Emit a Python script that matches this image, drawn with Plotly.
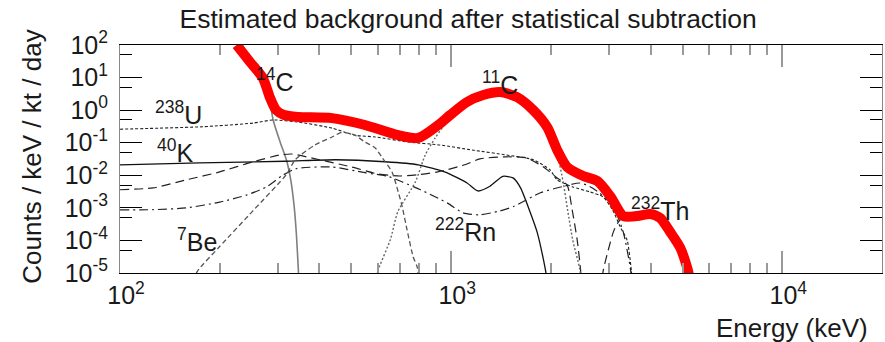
import math
import plotly.graph_objects as go

# ---------------- data (energy in keV, rate in counts/keV/kt/day) ----------------
e_total = [225, 247, 270, 284, 296, 313, 345, 437, 549, 692, 795, 914, 993, 1117, 1250, 1407,
           1582, 1770, 1950, 2090, 2240, 2505, 2762, 3021, 3310, 3648, 3990, 4277, 4589, 4920, 5166, 5350]
y_total = [100, 30, 9.7, 2.36, 1.01, 0.71, 0.62, 0.57, 0.35, 0.17, 0.14, 0.35, 0.71, 1.78, 2.9, 3.6,
           2.5, 1.0, 0.30, 0.060, 0.018, 0.0095, 0.0067, 0.0023, 5.6e-4, 5.6e-4, 6.5e-4, 4.9e-4, 1.8e-4,
           5.9e-5, 1.4e-5, 3e-6]

e_c14 = [215, 234, 250, 270, 282, 290, 305, 318, 328, 336, 341, 346, 350]
y_c14 = [400, 100, 30, 9.5, 2.5, 0.5, 0.1, 0.03, 0.007, 1e-3, 1.5e-4, 1e-5, 1e-6]

e_u238 = [100, 178, 252, 290, 345, 437, 512, 590, 742, 925, 1166, 1470, 1770, 1990, 2090, 2330,
          2620, 2870, 3070, 3240, 3400, 3500, 3560]
y_u238 = [0.26, 0.31, 0.40, 0.5, 0.43, 0.28, 0.17, 0.15, 0.105, 0.085, 0.059, 0.042, 0.030, 0.0146,
          0.0072, 0.0044, 0.0031, 0.0022, 8.8e-4, 2.6e-4, 1.0e-4, 1.2e-5, 1e-6]

e_k40 = [100, 174, 315, 447, 632, 795, 960, 1117, 1205, 1310, 1432, 1538, 1620, 1730, 1818, 1895, 1940, 1980]
y_k40 = [0.021, 0.024, 0.027, 0.030, 0.026, 0.021, 0.0125, 0.0058, 0.0033, 0.0046, 0.0093, 0.0083,
         0.0041, 7.6e-4, 1.8e-4, 2.9e-5, 8e-6, 1e-6]

e_th232 = [100, 126, 159, 200, 252, 304, 330, 400, 500, 600, 700, 800, 912, 1100, 1222, 1470, 1690,
           1900, 2090, 2240, 2320, 2400, 2460, 2500, None, 2840, 2870, 2980, 3100, 3240, 3500, 3990,
           4277, 4589, 4920, 5166, 5300]
y_th232 = [0.0036, 0.0041, 0.0073, 0.0127, 0.026, 0.042, 0.045, 0.030, 0.018, 0.011, 0.0095, 0.0105,
           0.0127, 0.021, 0.032, 0.037, 0.034, 0.018, 0.0083, 0.005, 8.6e-4, 1.1e-4, 1.2e-5, 1e-6, None,
           1e-6, 1e-5, 5e-5, 2e-4, 4.3e-4, 5e-4, 5.8e-4, 4.4e-4, 1.6e-4, 5.3e-5, 1.3e-5, 1e-6]

e_rn222 = [100, 126, 159, 200, 242, 278, 310, 340, 437, 549, 640, 710, 808, 975, 1087, 1222, 1400,
           1543, 1860, 2170, 2450, 2620, 2800, 3070, 3300, 3480, 3550]
y_rn222 = [8.7e-4, 8.8e-4, 1.0e-3, 1.5e-3, 2.5e-3, 4.5e-3, 0.010, 0.016, 0.018, 0.012, 0.0095, 0.0063,
           0.0036, 0.0014, 7e-4, 6.1e-4, 8e-4, 1.1e-3, 2.9e-3, 4.5e-3, 5.8e-3, 4.5e-3, 2.9e-3, 1.2e-3,
           2e-4, 1.3e-5, 1e-6]

e_be7 = [160, 171, 200, 252, 319, 338, 388, 437, 469, 512, 549, 590, 620, 663, 692, 710, 736, 768, 790, 810]
y_be7 = [2e-6, 1.1e-5, 6.5e-5, 8.1e-4, 0.011, 0.03, 0.085, 0.15, 0.21, 0.17, 0.105, 0.069, 0.034,
         0.0126, 0.0031, 0.0012, 2.1e-4, 3.1e-5, 1.5e-5, 1e-6]

e_c11 = [560, 597, 656, 690, 780, 835, 895, 993, 1117, 1250, 1407, 1582, 1770, 1950, 2090, 2180,
         2250, 2330, 2450, 2500]
y_c11 = [1e-6, 1e-5, 1.1e-4, 7.6e-4, 6.3e-3, 0.042, 0.14, 0.6, 1.6, 2.7, 3.3, 2.3, 0.9, 0.27, 0.045,
         0.006, 8e-4, 1e-4, 1.2e-5, 1e-6]

label_names = ["<sup>14</sup>C", "<sup>238</sup>U", "<sup>40</sup>K", "<sup>7</sup>Be",
               "<sup>222</sup>Rn", "<sup>11</sup>C", "<sup>232</sup>Th"]
label_e = [294, 150, 147, 171, 1102, 1406, 4276]
label_y = [8.4, 0.82, 0.056, 1.05e-4, 2.1e-4, 6.8, 9.3e-4]

x_tick_vals = [100, 1000, 10000]
x_tick_text = ["10<sup>2</sup>", "10<sup>3</sup>", "10<sup>4</sup>"]
x_minor_vals = [m * d for d in (100, 1000, 10000) for m in range(2, 10)]
y_tick_vals = [1e-5, 1e-4, 1e-3, 1e-2, 1e-1, 1, 10, 100]
y_tick_text = ["10<sup>-5</sup>", "10<sup>-4</sup>", "10<sup>-3</sup>", "10<sup>-2</sup>",
               "10<sup>-1</sup>", "10<sup>0</sup>", "10<sup>1</sup>", "10<sup>2</sup>"]
y_minor_vals = [5e-5, 5e-4, 5e-3, 5e-2, 0.5, 5, 50]

FONT = "Liberation Sans, Arial, sans-serif"
TXT = "#1a1a1a"

fig = go.Figure()

def add(e, y, color, width, dash, smooth=0.6):
    fig.add_trace(go.Scatter(x=e, y=y, mode="lines", connectgaps=False,
                             line=dict(color=color, width=width, dash=dash,
                                       shape="spline", smoothing=smooth),
                             hoverinfo="skip"))

add(e_c14, y_c14, "#7f7f7f", 1.6, "solid")
add(e_u238, y_u238, "#222222", 1.1, "3px,2px")
add(e_k40, y_k40, "#111111", 1.3, "solid")
add(e_th232, y_th232, "#222222", 1.2, "9px,5px")
add(e_rn222, y_rn222, "#222222", 1.2, "9px,4px,2px,4px")
add(e_be7, y_be7, "#555555", 1.3, "5px,3px")
add(e_c11, y_c11, "#666666", 1.4, "2px,2px")
add(e_total, y_total, "#ff0000", 10, "solid", 0.7)

annotations = []
for name, ex, ey in zip(label_names, label_e, label_y):
    annotations.append(dict(x=math.log10(ex), y=math.log10(ey), xref="x", yref="y",
                            text=name, showarrow=False, xanchor="center", yanchor="middle",
                            font=dict(size=25, color=TXT, family=FONT)))

annotations.append(dict(x=1, y=-0.241, xref="paper", yref="paper", xshift=-12,
                        text="Energy (keV)", showarrow=False, xanchor="right", yanchor="middle",
                        font=dict(size=26, color=TXT, family=FONT)))
annotations.append(dict(x=-0.1155, y=0.51, xref="paper", yref="paper", textangle=-90,
                        text="Counts / keV / kt / day", showarrow=False, xanchor="center",
                        yanchor="middle", font=dict(size=26, color=TXT, family=FONT)))

fig.update_layout(
    width=885, height=342,
    margin=dict(l=120, r=3, t=45, b=69, autoexpand=False),
    paper_bgcolor="white", plot_bgcolor="white",
    showlegend=False,
    font=dict(family=FONT, color=TXT),
    title=dict(text="Estimated background after statistical subtraction",
               x=0.529, xref="container", xanchor="center",
               y=0.945, yref="container", yanchor="middle",
               font=dict(size=26.5, color=TXT, family=FONT)),
    annotations=annotations,
)

fig.update_xaxes(type="log", range=[2, math.log10(20000)], automargin=False,
                 showline=True, linecolor="black", linewidth=1, mirror="ticks",
                 ticks="inside", ticklen=22, tickwidth=1.5, tickcolor="#999999",
                 tickvals=x_tick_vals, ticktext=x_tick_text, ticklabelshift=6,
                 tickfont=dict(size=25, color=TXT, family=FONT),
                 showgrid=False, zeroline=False,
                 minor=dict(ticks="inside", ticklen=10, tickwidth=1.5, tickcolor="#999999",
                            tickvals=x_minor_vals, showgrid=False))

fig.update_yaxes(type="log", range=[-5, 2], automargin=False,
                 showline=True, linecolor="#888888", linewidth=1, mirror="ticks",
                 ticks="inside", ticklen=22, tickwidth=1.3, tickcolor="black",
                 tickvals=y_tick_vals, ticktext=y_tick_text, ticklabelstandoff=6,
                 tickfont=dict(size=25, color=TXT, family=FONT),
                 showgrid=False, zeroline=False,
                 minor=dict(ticks="inside", ticklen=12, tickwidth=1.3, tickcolor="black",
                            tickvals=y_minor_vals, showgrid=False))

fig.write_html("out.html", config={"displayModeBar": False},
               post_script="document.body.style.margin='0px';document.body.style.overflow='hidden';")
